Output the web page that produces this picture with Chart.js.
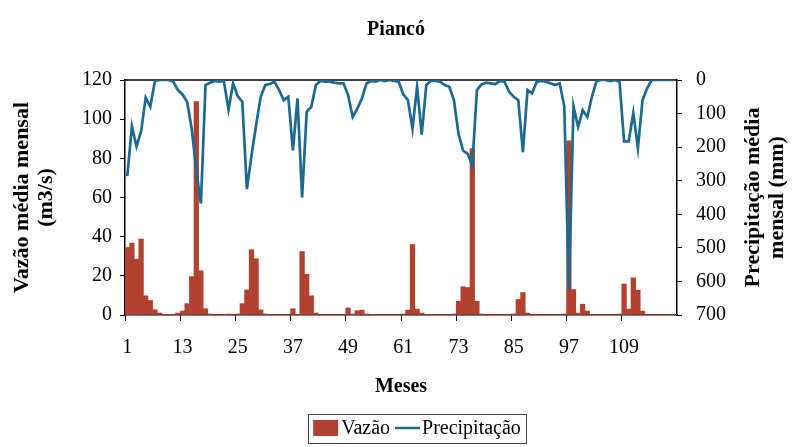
<!DOCTYPE html>
<html lang="pt">
<head>
<meta charset="UTF-8">
<title>Piancó</title>
<style>
  * { margin: 0; padding: 0; }
  body { background: #fff; }
  #wrap { width: 792px; height: 447px; }
</style>
</head>
<body>
<div id="wrap"><canvas id="myChart"></canvas></div>
<script src="https://cdn.jsdelivr.net/npm/chart.js@4.4.1/dist/chart.umd.min.js"></script>
<script>
// meses 1..120, rotulo a cada 12
const meses = Array.from({ length: 120 }, (_, i) => String(i + 1));
const passoRotulo = 12;

// vazao media mensal (m3/s)
const vazao = [
  34.5, 36.7, 28.5, 38.8, 9.8, 7.4, 2.7, 1.0, 0.4, 0.3,
  0.3, 1.0, 2.0, 5.8, 19.6, 109, 22.6, 3.2, 0.5, 0.3,
  0.3, 0.3, 0.5, 0.3, 0.5, 5.8, 12.8, 33.3, 28.7, 2.6,
  0.5, 0.3, 0.3, 0.3, 0.3, 0.3, 3.2, 0.3, 32.4, 20.8,
  9.8, 1.0, 0.3, 0.3, 0.3, 0.3, 0.3, 0.3, 3.6, 0.5,
  2.2, 2.5, 0.5, 0.3, 0.3, 0.3, 0.3, 0.3, 0.3, 0.3,
  0.5, 2.5, 36.0, 3.0, 1.0, 0.3, 0.3, 0.3, 0.3, 0.3,
  0.3, 0.5, 7.0, 14.4, 14.0, 85, 7.0, 0.5, 0.3, 0.3,
  0.3, 0.3, 0.3, 0.3, 0.5, 7.9, 11.5, 1.0, 0.3, 0.3,
  0.3, 0.3, 0.3, 0.3, 0.3, 0.5, 89, 13.0, 1.0, 5.5,
  2.0, 0.3, 0.3, 0.3, 0.3, 0.3, 0.3, 0.5, 15.8, 3.0,
  19.0, 12.7, 2.0, 0.3, 0.3, 0.3, 0.3, 0.3, 0.3, 0.3
];

// precipitacao media mensal (mm), eixo invertido
const precipitacao = [
  286, 138, 198, 153, 53, 80, 3, 0, 0, 0,
  5, 30, 43, 65, 145, 270, 368, 15, 8, 3,
  5, 3, 88, 10, 48, 65, 325, 225, 135, 50,
  15, 12, 5, 30, 60, 50, 210, 55, 350, 95,
  80, 15, 3, 5, 5, 8, 10, 10, 45, 110,
  85, 55, 10, 3, 5, 0, 3, 0, 3, 5,
  43, 60, 145, 20, 163, 15, 3, 3, 5, 15,
  20, 60, 160, 210, 220, 255, 30, 13, 8, 10,
  12, 3, 5, 35, 50, 60, 215, 30, 40, 5,
  3, 5, 10, 15, 10, 80, 625, 78, 140, 90,
  110, 50, 3, 0, 0, 3, 0, 5, 183, 183,
  98, 203, 60, 25, 0, 0, 0, 0, 0, 0
];

const serif = "'Liberation Serif', 'Times New Roman', serif";

// linha de cima da area do grafico
const bordaArea = {
  id: 'bordaArea',
  beforeDatasetsDraw(chart) {
    const { ctx, chartArea: a } = chart;
    ctx.save();
    ctx.strokeStyle = '#000';
    ctx.lineWidth = 1.5;
    ctx.beginPath();
    ctx.moveTo(a.left, a.top);
    ctx.lineTo(a.right, a.top);
    ctx.stroke();
    ctx.restore();
  }
};

// titulos dos eixos (os dois lidos de baixo para cima) e legenda com moldura
const extras = {
  id: 'extras',
  afterDraw(chart) {
    const { ctx, chartArea: a } = chart;
    const cy = (a.top + a.bottom) / 2;
    ctx.save();
    ctx.fillStyle = '#000';
    ctx.font = 'bold 22px ' + serif;
    ctx.textAlign = 'center';
    ctx.textBaseline = 'middle';
    const linhas = [
      [a.left - 103, 'Vazão média mensal'],
      [a.left - 79, '(m3/s)'],
      [a.right + 76, 'Precipitação média'],
      [a.right + 100, 'mensal (mm)']
    ];
    linhas.forEach(([x, t]) => {
      ctx.save();
      ctx.translate(x, cy);
      ctx.rotate(-Math.PI / 2);
      ctx.fillText(t, 0, 0);
      ctx.restore();
    });

    // legenda
    const [dsBar, dsLine] = chart.data.datasets;
    ctx.font = '20px ' + serif;
    ctx.textAlign = 'left';
    const w1 = ctx.measureText(dsBar.label).width;
    const w2 = ctx.measureText(dsLine.label).width;
    const total = 25 + 3 + w1 + 5 + 25 + 2 + w2;
    const ly = chart.height - 19;
    let x = (a.left + a.right) / 2 + 16 - total / 2;
    ctx.strokeStyle = '#444';
    ctx.lineWidth = 1;
    ctx.strokeRect(Math.round(x - 5) + 0.5, Math.round(ly - 14) + 0.5, Math.round(total + 10), 29);
    ctx.fillStyle = dsBar.backgroundColor;
    ctx.fillRect(x, ly - 8, 25, 16);
    x += 28;
    ctx.fillStyle = '#000';
    ctx.fillText(dsBar.label, x, ly + 1);
    x += w1 + 5;
    ctx.strokeStyle = dsLine.borderColor;
    ctx.lineWidth = 2.5;
    ctx.beginPath();
    ctx.moveTo(x, ly);
    ctx.lineTo(x + 25, ly);
    ctx.stroke();
    x += 27;
    ctx.fillText(dsLine.label, x, ly + 1);
    ctx.restore();
  }
};

new Chart('myChart', {
  type: 'bar',
  data: {
    labels: meses,
    datasets: [{
      type: 'bar',
      label: 'Vazão',
      data: vazao,
      yAxisID: 'y',
      backgroundColor: '#b3412f',
      borderWidth: 0,
      barPercentage: 1,
      categoryPercentage: 1,
      order: 1
    }, {
      type: 'line',
      label: 'Precipitação',
      data: precipitacao,
      yAxisID: 'y1',
      borderColor: '#1d6a90',
      backgroundColor: '#1d6a90',
      borderWidth: 2.7,
      pointRadius: 0,
      tension: 0,
      order: 0
    }]
  },
  options: {
    responsive: true,
    maintainAspectRatio: false,
    animation: false,
    layout: { padding: { left: 0, right: 0, top: 0, bottom: 38 } },
    plugins: {
      title: {
        display: true,
        text: 'Piancó',
        color: '#000',
        font: { family: serif, size: 20, weight: 'bold' },
        padding: { top: 18, bottom: 38 }
      },
      legend: { display: false },
      tooltip: { enabled: false }
    },
    scales: {
      x: {
        offset: true,
        afterFit: s => { s.height = 94; },
        grid: {
          offset: true,
          drawOnChartArea: false,
          tickLength: 6,
          tickColor: c => (c.index % passoRotulo === 0 ? '#000' : 'rgba(0,0,0,0)')
        },
        border: { color: '#000', width: 1.5 },
        ticks: {
          autoSkip: false,
          maxRotation: 0,
          color: '#000',
          padding: 15,
          font: { family: serif, size: 20 },
          callback: (v, i) => (i % passoRotulo === 0 ? meses[i] : '')
        },
        title: {
          display: true,
          text: 'Meses',
          color: '#000',
          font: { family: serif, size: 20, weight: 'bold' },
          padding: { top: 14, bottom: 10 }
        }
      },
      y: {
        position: 'left',
        min: 0,
        max: 120,
        afterFit: s => { s.width = 125; },
        grid: { drawOnChartArea: false, tickLength: 5, tickColor: '#000' },
        border: { color: '#000', width: 1.5 },
        ticks: { stepSize: 20, color: '#000', padding: 8, font: { family: serif, size: 20 } }
      },
      y1: {
        position: 'right',
        reverse: true,
        min: 0,
        max: 700,
        afterFit: s => { s.width = 115; },
        grid: { drawOnChartArea: false, tickLength: 5, tickColor: '#000' },
        border: { color: '#000', width: 1.5 },
        ticks: { stepSize: 100, color: '#000', padding: 14, font: { family: serif, size: 20 } }
      }
    }
  },
  plugins: [bordaArea, extras]
});
</script>
</body>
</html>
